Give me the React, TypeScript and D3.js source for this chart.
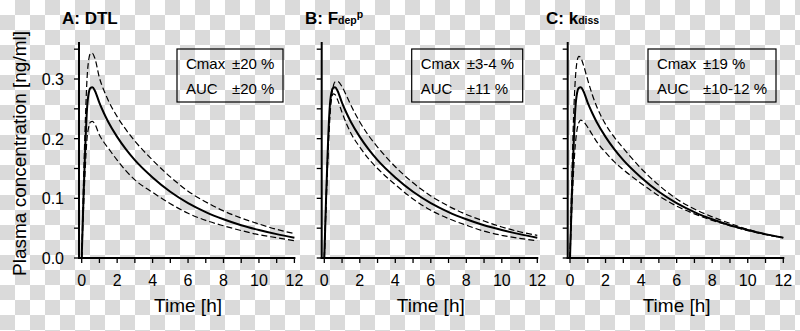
import React from "react";
import * as d3 from "d3";

// Time points (h)
const TIMES = [0, 0.1, 0.2, 0.3, 0.4, 0.5, 0.6, 0.75, 1, 1.25, 1.5, 2, 2.5, 3, 4, 5, 6, 7, 8, 9, 10, 11, 12];

// Reference (solid) curve, common to all panels (ng/ml)
const SOLID = [0, 0.10, 0.185, 0.25, 0.277, 0.285, 0.286, 0.280, 0.260, 0.243, 0.228, 0.203, 0.182, 0.164, 0.135, 0.111, 0.092, 0.077, 0.065, 0.055, 0.047, 0.040, 0.034];

// Panel A: DTL
const A_UPPER = [0, 0.125, 0.225, 0.30, 0.333, 0.343, 0.343, 0.334, 0.302, 0.281, 0.264, 0.237, 0.215, 0.196, 0.164, 0.136, 0.112, 0.094, 0.079, 0.067, 0.057, 0.048, 0.041];
const A_LOWER = [0, 0.08, 0.150, 0.200, 0.220, 0.228, 0.229, 0.224, 0.206, 0.194, 0.184, 0.164, 0.146, 0.131, 0.110, 0.091, 0.075, 0.063, 0.054, 0.046, 0.039, 0.034, 0.029];

// Panel B: Fdep^p
const B_UPPER = [0, 0.085, 0.165, 0.228, 0.268, 0.287, 0.295, 0.296, 0.287, 0.272, 0.256, 0.228, 0.205, 0.186, 0.153, 0.126, 0.104, 0.087, 0.073, 0.062, 0.052, 0.044, 0.038];
const B_LOWER = [0, 0.10, 0.183, 0.243, 0.267, 0.275, 0.274, 0.265, 0.244, 0.225, 0.209, 0.186, 0.166, 0.150, 0.123, 0.099, 0.080, 0.066, 0.055, 0.045, 0.038, 0.033, 0.029];

// Panel C: kdiss
const C_UPPER = [0, 0.13, 0.235, 0.30, 0.330, 0.338, 0.336, 0.324, 0.298, 0.274, 0.254, 0.224, 0.202, 0.184, 0.150, 0.122, 0.099, 0.082, 0.069, 0.058, 0.048, 0.040, 0.034];
const C_LOWER = [0, 0.08, 0.145, 0.19, 0.216, 0.227, 0.231, 0.229, 0.219, 0.207, 0.195, 0.177, 0.161, 0.148, 0.125, 0.104, 0.087, 0.074, 0.063, 0.054, 0.046, 0.039, 0.034];

const X_TICKS = [0, 1, 2, 3, 4, 5, 6, 7, 8, 9, 10, 11, 12];
const X_TICK_LABELS = ["0", "2", "4", "6", "8", "10", "12"];
const Y_TICKS = [0, 0.05, 0.1, 0.15, 0.2, 0.25, 0.3, 0.35];
const Y_TICK_LABELS = ["0.0", "0.1", "0.2", "0.3"];

const CMAX_TEXT = ["±20 %", "±3-4 %", "±19 %"];
const AUC_TEXT = ["±20 %", "±11 %", "±10-12 %"];

const FONT = "Liberation Sans, Arial, sans-serif";

const LAYOUT = [
  { axisX: 79, x0: 81.7, x12: 294.4, boxL: 177, boxR: 283, titleX: 62, upper: A_UPPER, lower: A_LOWER, yLabels: true },
  { axisX: 321.7, x0: 324.3, x12: 537.3, boxL: 411.7, boxR: 522.7, titleX: 305, upper: B_UPPER, lower: B_LOWER, yLabels: false },
  { axisX: 567.7, x0: 570, x12: 783.3, boxL: 648, boxR: 776, titleX: 546, upper: C_UPPER, lower: C_LOWER, yLabels: false },
];

const Y0 = 258;
const Y03 = 79;

function Panel({ cfg, idx }: { cfg: any; idx: number }) {
  const x = d3.scaleLinear().domain([0, 12]).range([cfg.x0, cfg.x12]);
  const y = d3.scaleLinear().domain([0, 0.3]).range([Y0, Y03]);
  const line = d3
    .line<number>()
    .x((_, i) => x(TIMES[i]))
    .y((d) => y(d))
    .curve(d3.curveMonotoneX);
  const yTop = y(0.362);
  const titles = [
    <text key="t" x={cfg.titleX} y={24} fontFamily={FONT} fontSize={17} fontWeight="bold">A: DTL</text>,
    <text key="t" x={cfg.titleX} y={24} fontFamily={FONT} fontSize={17} fontWeight="bold">
      B: F<tspan fontSize={10.5}>dep</tspan>
      <tspan fontSize={10.5} dy={-6}>p</tspan>
    </text>,
    <text key="t" x={cfg.titleX} y={24} fontFamily={FONT} fontSize={17} fontWeight="bold">
      C: k<tspan fontSize={10.5}>diss</tspan>
    </text>,
  ];
  return (
    <g>
      {titles[idx]}
      {/* curves */}
      <path d={line(cfg.upper) || ""} fill="none" stroke="#000" strokeWidth={1.2} strokeDasharray="6,3" />
      <path d={line(cfg.lower) || ""} fill="none" stroke="#000" strokeWidth={1.2} strokeDasharray="6,3" />
      <path d={line(SOLID) || ""} fill="none" stroke="#000" strokeWidth={2} />
      {/* axes */}
      <line x1={cfg.axisX} x2={cfg.axisX} y1={Y0 + 1} y2={yTop} stroke="#000" strokeWidth={2} />
      <line x1={cfg.axisX - 1} x2={x(12) + 1} y1={Y0} y2={Y0} stroke="#000" strokeWidth={2} />
      {X_TICKS.map((t) => (
        <line key={"xt" + t} x1={x(t)} x2={x(t)} y1={Y0} y2={Y0 + 5} stroke="#000" strokeWidth={1.3} />
      ))}
      {X_TICK_LABELS.map((l) => (
        <text key={"xl" + l} x={x(+l)} y={286} textAnchor="middle" fontFamily={FONT} fontSize={16}>{l}</text>
      ))}
      {Y_TICKS.map((v) => (
        <line key={"yt" + v} x1={cfg.axisX - 5} x2={cfg.axisX} y1={y(v)} y2={y(v)} stroke="#000" strokeWidth={1.3} />
      ))}
      {cfg.yLabels &&
        Y_TICK_LABELS.map((l) => (
          <text key={"yl" + l} x={64} y={y(+l) + 6} textAnchor="end" fontFamily={FONT} fontSize={16}>{l}</text>
        ))}
      <text x={(cfg.x0 + cfg.x12) / 2} y={312} textAnchor="middle" fontFamily={FONT} fontSize={19}>Time [h]</text>
      {/* stats box */}
      <rect x={cfg.boxL} y={49} width={cfg.boxR - cfg.boxL} height={53} fill="none" stroke="#000" strokeWidth={1.2} />
      <text x={cfg.boxL + 9} y={69} fontFamily={FONT} fontSize={15}>Cmax</text>
      <text x={cfg.boxL + 55} y={69} fontFamily={FONT} fontSize={15}>{CMAX_TEXT[idx]}</text>
      <text x={cfg.boxL + 9} y={94} fontFamily={FONT} fontSize={15}>AUC</text>
      <text x={cfg.boxL + 55} y={94} fontFamily={FONT} fontSize={15}>{AUC_TEXT[idx]}</text>
    </g>
  );
}

export default function App() {
  return (
    <svg
      width={800}
      height={331}
      style={{ position: "absolute", left: 0, top: 0, display: "block" }}
      xmlns="http://www.w3.org/2000/svg"
    >
      <defs>
        <pattern id="checker" x={0} y={0} width={30} height={30} patternUnits="userSpaceOnUse">
          <rect x={0} y={0} width={30} height={30} fill="#ffffff" />
          <rect x={15} y={0} width={15} height={15} fill="#dadada" />
          <rect x={0} y={15} width={15} height={15} fill="#dadada" />
        </pattern>
      </defs>
      <rect x={0} y={0} width={800} height={331} fill="url(#checker)" />
      <text
        transform="translate(26,153.5) rotate(-90)"
        textAnchor="middle"
        fontFamily={FONT}
        fontSize={19}
      >
        Plasma concentration [ng/ml]
      </text>
      {LAYOUT.map((cfg, i) => (
        <Panel key={i} cfg={cfg} idx={i} />
      ))}
    </svg>
  );
}
